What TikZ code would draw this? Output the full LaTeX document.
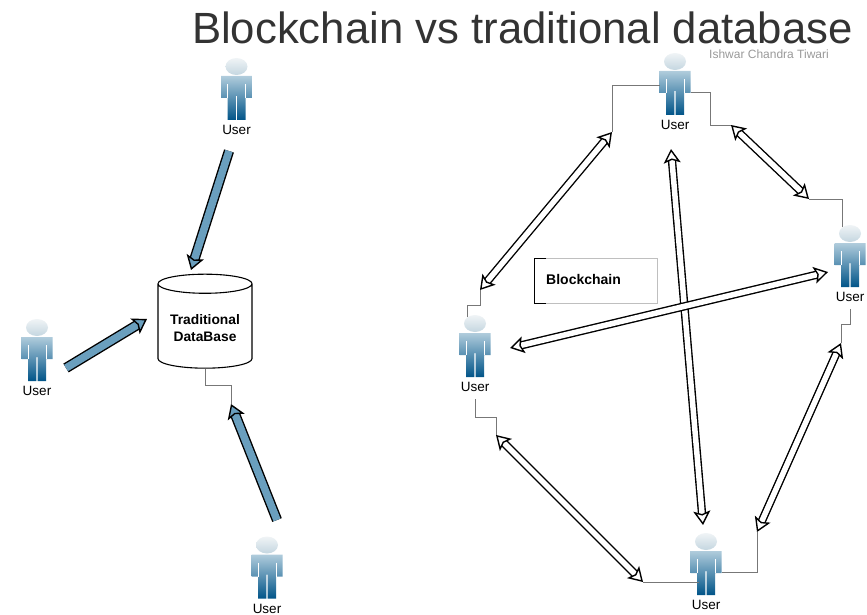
\documentclass[tikz,border=0pt]{standalone}
\usepackage{fontspec}
\setmainfont{Liberation Sans}
\usetikzlibrary{arrows.meta,shapes.geometric}
\definecolor{wirecol}{HTML}{777777}
\definecolor{bluecol}{HTML}{6A9FBE}
\definecolor{bluelight}{HTML}{B0CCDC}
\definecolor{bluedark}{HTML}{005488}
\definecolor{headtop}{HTML}{F0F4F6}
\definecolor{headlow}{HTML}{C4D6E0}
\tikzset{
  userfig/.pic={
    \shade[top color=headtop,bottom color=headlow] (0,-23.5) ellipse (11 and 8.5);
    \shade[top color=bluelight,bottom color=bluedark]
      (-15.5,-14) -- (15.5,-14) -- (15.5,8) -- (9,8) -- (9,30) -- (0.7,30) -- (0.7,6)
      -- (-0.7,6) -- (-0.7,30) -- (-9,30) -- (-9,8) -- (-15.5,8) -- cycle;
    \draw[white,line width=0.5pt] (-9,-6) -- (-9,8) (9,-6) -- (9,8);
    \node[inner sep=0pt,font=\fontsize{13.5}{14}\selectfont] (-label) at (0,40) {User};
    \coordinate (-left) at (-15.5,0);
    \coordinate (-right) at (15.5,7);
    \coordinate (-top) at (-8,-30);
    \coordinate (-base) at (0,52);
    \coordinate (-hip) at (-7,17);
  },
  wire/.style={draw=wirecol,line width=0.8pt},
  solidarrow/.style={line width=1.4pt,double=bluecol,double distance=7.5pt,
    -{Stealth[inset=3pt,length=14pt,width=18pt,fill=bluecol]}},
  hollowarrow/.style={line width=1.4pt,double=white,double distance=5.5pt,
    {Stealth[inset=3pt,open,fill=white,length=14pt,width=17pt]}-{Stealth[inset=3pt,open,fill=white,length=14pt,width=17pt]}}
}
\begin{document}
\begin{tikzpicture}[x=1pt,y=-1pt]
  \useasboundingbox (0,0) rectangle (867,615);
  \node[text=black!80,inner sep=0pt,font=\fontsize{43.7}{44}\selectfont] (title) at (522.5,28) {Blockchain vs traditional database};
  \node[text=black!40,inner sep=0pt,font=\fontsize{12}{12}\selectfont] (mark) at (769,54) {Ishwar Chandra Tiwari};
  % left side
  \pic (utop) at (236.5,90) {userfig};
  \pic (uleft) at (37,351) {userfig};
  \pic (ubottom) at (267,568.5) {userfig};
  \node[cylinder,shape border rotate=90,aspect=0.25,draw,line width=1.1pt,minimum width=94pt,minimum height=94pt,
    align=center,font=\bfseries\fontsize{13.8}{17}\selectfont] (db) at (205,328) {Traditional\\DataBase};
  \coordinate (dbin) at (231,404);
  \coordinate (dbtop) at (191,270);
  \coordinate (dbleft) at (147,319);
  \coordinate (fromtop) at (229,151);
  \coordinate (fromleft) at (66,368);
  \coordinate (frombottom) at (277,520);
  \draw[solidarrow] (fromtop) -- (dbtop);
  \draw[solidarrow] (fromleft) -- (dbleft);
  \draw[solidarrow] (frombottom) -- (dbin);
  \draw[wire] (db.south) -- (205,385) -| (dbin);
  % right side
  \coordinate (a1) at (612,132);
  \coordinate (a2) at (480,290);
  \coordinate (b1) at (731,125);
  \coordinate (b2) at (809,199);
  \coordinate (c1) at (671,149);
  \coordinate (c2) at (703,525);
  \coordinate (d1) at (828,272);
  \coordinate (d2) at (510,348);
  \coordinate (e1) at (841,343);
  \coordinate (e2) at (757,532);
  \coordinate (f1) at (496,435);
  \coordinate (f2) at (643,582);
  \pic (na) at (675,85) {userfig};
  \pic (nb) at (850,257) {userfig};
  \pic (nc) at (475,347) {userfig};
  \pic (nd) at (706,565) {userfig};
  \node[draw=black!25,minimum width=123pt,minimum height=45pt,inner sep=0pt] (chain) at (595.5,281) {};
  \draw[line width=1pt] (546,258) -- (534,258) -- (534,303) -- (546,303);
  \node[inner sep=0pt,font=\bfseries\fontsize{14}{14}\selectfont,anchor=west] (chainlabel) at (546,279) {Blockchain};
  \draw[hollowarrow] (a1) -- (a2);
  \draw[hollowarrow] (b1) -- (b2);
  \draw[hollowarrow] (c1) -- (c2);
  \draw[hollowarrow] (d1) -- (d2);
  \draw[hollowarrow] (e1) -- (e2);
  \draw[hollowarrow] (f1) -- (f2);
  \draw[wire] (na-left) -| (a1);
  \draw[wire] (na-right) -- (710,92) |- (b1);
  \draw[wire] (b2) -| (nb-top);
  \draw[wire] (nc-top) |- (480,305) -- (a2);
  \draw[wire] (nc-base) |- (496,417) -- (f1);
  \draw[wire] (f2) -- (nd-hip);
  \draw[wire] (nd-right) -| (e2);
  \draw[wire] (nb-base) |- (841,324) -- (e1);
\end{tikzpicture}
\end{document}
